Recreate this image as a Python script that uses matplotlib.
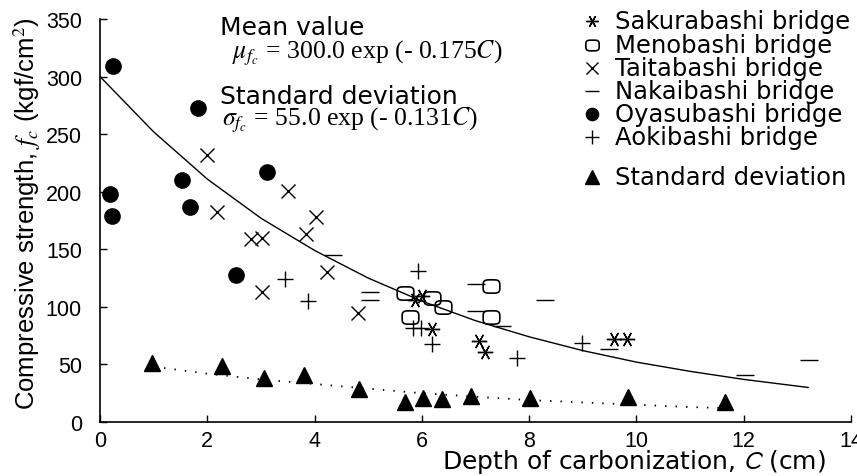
import numpy as np
import matplotlib
matplotlib.use("Agg")
import matplotlib.pyplot as plt
from matplotlib.path import Path
from matplotlib.lines import Line2D

plt.rcParams['font.family'] = ['Liberation Sans', 'DejaVu Sans']

# depth of carbonization C (cm) / compressive strength fc (kgf/cm2)
saku_c = [5.88, 6.0, 6.19, 7.06, 7.18, 9.58, 9.83]
saku_f = [106, 109, 81, 70, 61, 72, 72]

meno_c = [5.69, 6.19, 6.4, 5.78, 7.28, 7.28]
meno_f = [112, 108, 100, 91, 118, 91]

taita_c = [1.99, 3.51, 2.18, 4.03, 3.84, 2.82, 3.02, 4.23, 3.02, 4.81]
taita_f = [232, 201, 182, 178, 163, 159, 160, 130, 113, 95]

nakai_c = [4.35, 5.04, 5.04, 7.0, 7.0, 7.49, 8.3, 9.48, 12.03, 13.21]
nakai_f = [145, 113, 106, 120, 96, 83, 106, 63, 41, 54]

oyasu_c = [0.25, 0.19, 0.22, 1.83, 1.53, 1.68, 3.11, 2.54]
oyasu_f = [309, 198, 179, 273, 210, 187, 217, 128]

aoki_c = [3.45, 3.88, 5.93, 5.84, 5.99, 6.19, 7.77, 8.99]
aoki_f = [124, 105, 131, 82, 82, 68, 56, 69]

std_c = [0.97, 2.27, 3.05, 3.8, 4.82, 5.69, 6.03, 6.38, 6.92, 8.02, 9.85, 11.66]
std_f = [51, 49, 38, 41, 29, 17, 21, 20, 23, 21, 22, 17.6]

# fitted curves, sampled off the figure
mean_c = [0, 1, 2, 3, 4, 5, 6, 7, 8, 9, 10, 11, 12, 13.2]
mean_f = [300, 252, 211, 177, 149, 125, 105, 88, 74, 62, 52, 44, 37, 30]
sd_c = [1, 2, 3, 4, 5, 6, 7, 8, 9, 10, 11, 11.7]
sd_f = [48, 42, 37, 33, 29, 25, 22, 19, 17, 15, 13, 12]

x_ticks = [0, 2, 4, 6, 8, 10, 12, 14]
y_ticks = [0, 50, 100, 150, 200, 250, 300, 350]

# rounded box marker for Menobashi
t = np.linspace(0, 2 * np.pi, 60)
rx = np.sign(np.cos(t)) * np.abs(np.cos(t)) ** 0.5 * 1.25
ry = np.sign(np.sin(t)) * np.abs(np.sin(t)) ** 0.5
rbox = Path(np.column_stack([rx, ry]), closed=True)

asterisk = (6, 2, 90)

styles = {
    'saku': dict(marker=asterisk, ms=11, mew=1.0, mfc='none', mec='k', ls='none'),
    'meno': dict(marker=rbox, ms=12, mew=1.2, mfc='none', mec='k', ls='none'),
    'taita': dict(marker='x', ms=10, mew=1.0, mec='k', ls='none'),
    'nakai': dict(marker='_', ms=12.5, mew=1.0, mec='k', ls='none'),
    'oyasu': dict(marker='o', ms=11, mfc='k', mec='k', ls='none'),
    'aoki': dict(marker='+', ms=12, mew=1.0, mec='k', ls='none'),
    'std': dict(marker='^', ms=12, mfc='k', mec='k', ls='none'),
}

fig = plt.figure(figsize=(8.57, 4.77), dpi=100)
ax = fig.add_axes([100 / 857, 1 - 423 / 477, 751 / 857, 403 / 477])

ax.plot(mean_c, mean_f, color='k', lw=1.0)
ax.plot(sd_c, sd_f, color='k', lw=1.3, ls=(0, (0.8, 5)))

ax.plot(saku_c, saku_f, clip_on=False, **styles['saku'])
ax.plot(meno_c, meno_f, clip_on=False, **styles['meno'])
ax.plot(taita_c, taita_f, clip_on=False, **styles['taita'])
ax.plot(nakai_c, nakai_f, clip_on=False, **styles['nakai'])
ax.plot(oyasu_c, oyasu_f, clip_on=False, **styles['oyasu'])
ax.plot(aoki_c, aoki_f, clip_on=False, **styles['aoki'])
ax.plot(std_c, std_f, clip_on=False, **styles['std'])

ax.set_xlim(0, 14)
ax.set_ylim(0, 350)
ax.set_xticks(x_ticks)
ax.set_yticks(y_ticks)
for s in ['top', 'right']:
    ax.spines[s].set_visible(False)
for s in ['left', 'bottom']:
    ax.spines[s].set_linewidth(1.2)
ax.tick_params(direction='in', length=5, width=1.0)
ax.tick_params(axis='y', pad=13)
ax.tick_params(axis='x', pad=6)
for lab in ax.get_xticklabels() + ax.get_yticklabels():
    lab.set_fontfamily('Liberation Sans')
    lab.set_fontsize(15.5)

fig.text(27 / 857, 1 - 214 / 477, 'Compressive strength, $f_c$ (kgf/cm$^2$)',
         fontsize=18.5, rotation=90, ha='center', va='center', math_fontfamily='stix')
fig.text(826 / 857, 1 - 469 / 477, 'Depth of carbonization, $C$ (cm)',
         fontsize=18, family='DejaVu Sans', ha='right', va='baseline',
         math_fontfamily='stixsans')

# equations
fig.text(220 / 857, 1 - 28 / 477, 'Mean value', fontsize=18,
         family='DejaVu Sans', va='center')
fig.text(232 / 857, 1 - 53 / 477, r'$\mu_{f_c}$ = 300.0 exp (- 0.175$C$)',
         fontsize=18.5, family='Liberation Serif', va='center', math_fontfamily='stix')
fig.text(220 / 857, 1 - 97 / 477, 'Standard deviation', fontsize=18,
         family='DejaVu Sans', va='center')
fig.text(222 / 857, 1 - 120 / 477, r'$\sigma_{f_c}$ = 55.0 exp (- 0.131$C$)',
         fontsize=18.5, family='Liberation Serif', va='center', math_fontfamily='stix')

# legend
leg_keys = ['saku', 'meno', 'taita', 'nakai', 'oyasu', 'aoki', 'std']
leg_labels = ['Sakurabashi bridge', 'Menobashi bridge', 'Taitabashi bridge',
              'Nakaibashi bridge', 'Oyasubashi bridge', 'Aokibashi bridge',
              'Standard deviation']
leg_y = [22, 46, 69, 92, 115, 138, 178]
for key, lab, yy in zip(leg_keys, leg_labels, leg_y):
    st = dict(styles[key])
    st['ms'] = st['ms'] * 0.8
    fig.add_artist(Line2D([592 / 857], [1 - yy / 477], transform=fig.transFigure, **st))
    fig.text(615 / 857, 1 - yy / 477, lab, fontsize=17.5, family='DejaVu Sans',
             va='center', ha='left')

fig.savefig('out.png', dpi=100)
